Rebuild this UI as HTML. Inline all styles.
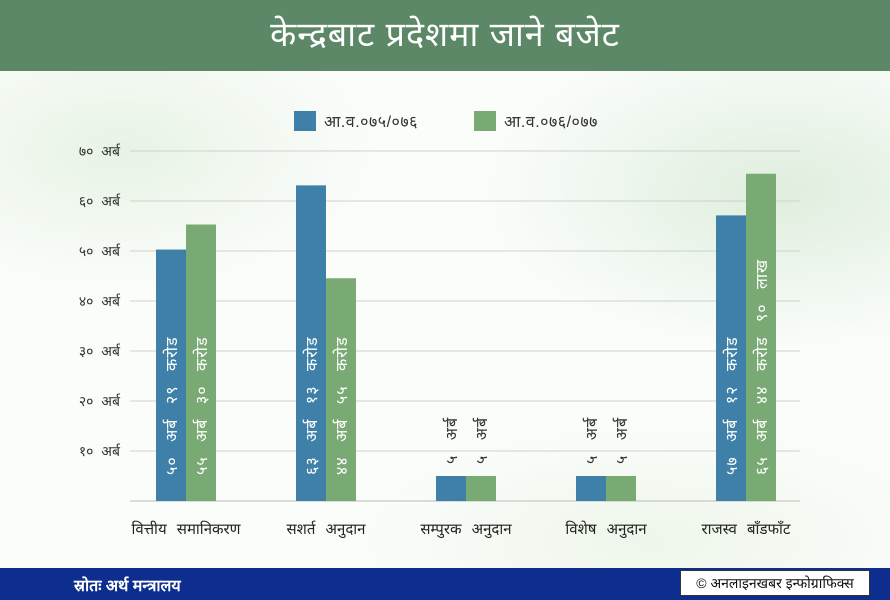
<!DOCTYPE html>
<html><head><meta charset="utf-8">
<style>
body{margin:0;width:890px;height:600px;overflow:hidden;font-family:"Liberation Sans","Noto Sans CJK SC","DejaVu Sans",sans-serif;background:#fff;position:relative}
#hdr{position:absolute;left:0;top:0;width:890px;height:71px;background:#5c8867;color:#fff;font-size:34px;text-align:center;line-height:71px;letter-spacing:1px}
#bg{position:absolute;left:0;top:71px;width:890px;height:497px;background:radial-gradient(ellipse 300px 160px at 780px 120px,#dfeedd,transparent),radial-gradient(ellipse 260px 140px at 120px 80px,#e8f3e5,transparent),radial-gradient(ellipse 300px 120px at 650px 470px,#eef6ea,transparent),#fbfdfb}
#ftr{position:absolute;left:0;top:568px;width:890px;height:32px;background:#0d2e8e}
#src{position:absolute;left:74px;top:574px;color:#fff;font-size:16px;font-weight:bold}
#cred{position:absolute;left:680px;top:570px;width:188px;height:24px;background:#fff;border:1px solid #333;font-size:14px;line-height:24px;text-align:center;color:#111}
svg{position:absolute;left:0;top:0}
</style></head><body>
<div id="hdr">केन्द्रबाट प्रदेशमा जाने बजेट</div>
<div id="bg"></div>
<svg id="chart" width="890" height="600"></svg>
<div id="ftr"></div>
<div id="src">स्रोतः अर्थ मन्त्रालय</div>
<div id="cred">© अनलाइनखबर इन्फोग्राफिक्स</div>
<script>
const categories=["वित्तीय समानिकरण","सशर्त अनुदान","सम्पुरक अनुदान","विशेष अनुदान","राजस्व बाँडफाँट"];
const series1=[50.29,63.13,5,5,57.12];
const series2=[55.30,44.55,5,5,65.449];
const labels1=["५० अर्ब २९ करोड","६३ अर्ब १३ करोड","५ अर्ब","५ अर्ब","५७ अर्ब १२ करोड"];
const labels2=["५५ अर्ब ३० करोड","४४ अर्ब ५५ करोड","५ अर्ब","५ अर्ब","६५ अर्ब ४४ करोड ९० लाख"];
const ticks=[10,20,30,40,50,60,70];
const tickLabels=["१० अर्ब","२० अर्ब","३० अर्ब","४० अर्ब","५० अर्ब","६० अर्ब","७० अर्ब"];
const seriesNames=["आ.व.०७५/०७६","आ.व.०७६/०७७"];
const colors=["#3f80a8","#7aaa74"];
const svg=document.getElementById('chart');const NS="http://www.w3.org/2000/svg";
const y=v=>501-v*5;const cx=i=>186+i*140;const bw=30;
function mk(t,a,txt){const e=document.createElementNS(NS,t);for(const k in a)e.setAttribute(k,a[k]);if(txt!==undefined)e.textContent=txt;svg.appendChild(e);return e;}
ticks.forEach((t,i)=>{
 const g=mk('line',{x1:130,x2:800,y1:y(t),y2:y(t),stroke:'#d0d0d0','stroke-width':1});
 
 
 const l=mk('text',{x:120,y:y(t)+5,'text-anchor':'end','font-size':14,'word-spacing':4,fill:'#333'},tickLabels[i]);
 
 
});
const base=mk('line',{x1:130,x2:800,y1:501,y2:501,stroke:'#bbb'});


[series1,series2].forEach((s,si)=>{
 const lbs=si?labels2:labels1;
 s.forEach((v,i)=>{
  const x=cx(i)-bw+si*bw;
  const r=mk('rect',{x:x,y:y(v),width:bw,height:501-y(v),fill:colors[si]});
  
  
  const tx=x+bw/2+6;let t;
  const st={'font-size':16,'letter-spacing':1,'word-spacing':9};
  if(v>20){const ty=y(0)-26;
   t=mk('text',Object.assign({x:0,y:0,fill:'#fff',transform:`translate(${tx},${ty}) rotate(-90)`},st),lbs[i]);}
  else{const ty=y(v)-12;
   t=mk('text',Object.assign({x:0,y:0,fill:'#333',transform:`translate(${tx},${ty}) rotate(-90)`},st),lbs[i]);}
  
  
 });
});
categories.forEach((c,i)=>{
 const t=mk('text',{x:cx(i),y:534,'text-anchor':'middle','font-size':15,'word-spacing':6,fill:'#222'},c);
 
 
});
seriesNames.forEach((n,i)=>{
 const lx=294+i*180;
 const s=mk('rect',{x:lx,y:111,width:22,height:20,fill:colors[i]});
 
 
 const t=mk('text',{x:lx+30,y:127,'font-size':16,'letter-spacing':0.5,fill:'#333'},n);
 
 
});
</script>
</body></html>
